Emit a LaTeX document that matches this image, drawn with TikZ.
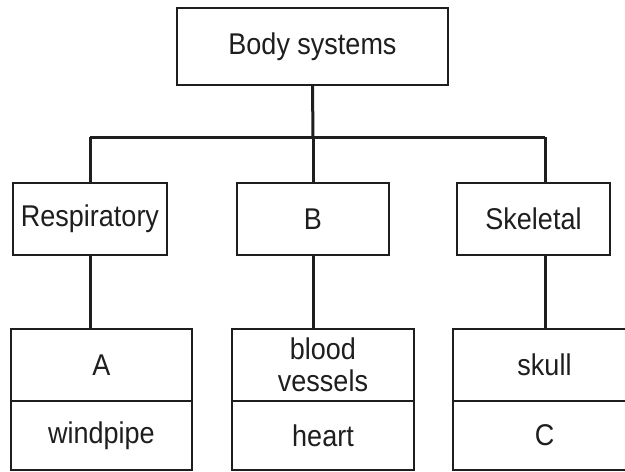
\documentclass[tikz,border=0pt]{standalone}
\usepackage{fontspec}
\setmainfont{Liberation Sans}[FakeStretch=0.9]
\begin{document}
\begin{tikzpicture}[x=1pt,y=-1pt,
  box/.style={draw=ink,line width=1.8pt,inner sep=0pt,align=center,
    font=\fontsize{30}{32}\selectfont,text=ink},
  conn/.style={draw=ink,line width=3pt}]
\definecolor{ink}{HTML}{1E1E1E}
\useasboundingbox (0,0) rectangle (625,472);
\clip (0,0) rectangle (625,472);
\fill[white] (0,0) rectangle (625,472);
% top
\node[box,minimum width=271pt,minimum height=77pt] (top) at (312.5,46.5) {Body systems};
% middle
\node[box,minimum width=154pt,minimum height=72pt] (resp) at (90,219) {Respiratory};
\node[box,minimum width=152pt,minimum height=72pt] (b) at (313,219) {B};
\node[box,minimum width=153pt,minimum height=72pt] (skel) at (533.5,219) {Skeletal};
% bottom
\node[box,minimum width=181pt,minimum height=72pt] (a) at (101.5,365) {A};
\node[box,minimum width=181pt,minimum height=69pt] (wind) at (101.5,435.5) {windpipe};
\node[box,minimum width=182pt,minimum height=72pt] (blood) at (323,365) {blood\\vessels};
\node[box,minimum width=182pt,minimum height=69pt] (heart) at (323,435.5) {heart};
\node[box,minimum width=183pt,minimum height=72pt] (skull) at (544.5,365) {skull};
\node[box,minimum width=183pt,minimum height=69pt] (c) at (544.5,435.5) {C};
% connectors
\coordinate (barL) at (90,137);
\coordinate (barM) at (313,137);
\coordinate (barR) at (545,137);
\draw[conn] (top.south) -- (barM);
\draw[conn] (barL) -- (barR);
\draw[conn] (barL) -- (resp.north);
\draw[conn] (barM) -- (b.north);
\draw[conn] (barR) -- (barR |- skel.north);
\draw[conn] (resp.south) -- (resp.south |- a.north);
\draw[conn] (b.south) -- (b.south |- blood.north);
\draw[conn] (barR |- skel.south) -- (barR |- skull.north);
\end{tikzpicture}
\end{document}
